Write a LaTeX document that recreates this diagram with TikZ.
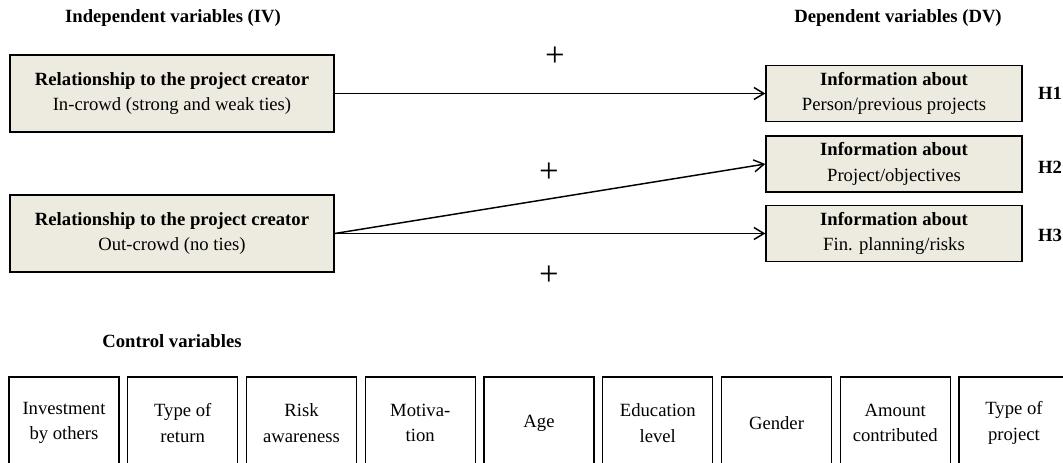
\documentclass[tikz,border=0pt]{standalone}
\usepackage{fontspec}
\setmainfont{Liberation Serif}
\usetikzlibrary{arrows.meta}
\definecolor{boxfill}{HTML}{EDEADF}

\begin{document}
\begin{tikzpicture}[x=0.75pt,y=-0.75pt,
    txt/.style={font=\fontsize{14pt}{19pt}\selectfont,align=center,inner sep=0pt},
    title/.style={txt,font=\fontsize{14pt}{19pt}\selectfont\bfseries},
    ivbox/.style={txt,draw,line width=1pt,fill=boxfill,minimum width=243pt,minimum height=57.75pt},
    dvbox/.style={txt,draw,line width=1pt,fill=boxfill,minimum width=192pt,minimum height=42pt},
    ctrlbox/.style={txt,draw,line width=0.9pt,minimum width=82.5pt,minimum height=69pt},
    plus/.style={font=\fontsize{26pt}{26pt}\selectfont,inner sep=0pt},
    link/.style={line width=1.1pt,-{Straight Barb[length=7.5pt,width=9pt]}}]
    \useasboundingbox (0,0) rectangle (1063,463);
    \clip (0,0) rectangle (1063,463);

    % headings
    \node[title] (ivtitle) at (173,18) {Independent variables (IV)};
    \node[title] (dvtitle) at (898,18) {Dependent variables (DV)};
    \node[title] (ctrltitle) at (172,341) {Control variables};

    % independent variables
    \node[ivbox] (iv1) at (172,93.5) {\textbf{Relationship to the project creator}\\In-crowd (strong and weak ties)};
    \node[ivbox] (iv2) at (172,233.5) {\textbf{Relationship to the project creator}\\Out-crowd (no ties)};

    % dependent variables
    \node[dvbox] (dv1) at (894,93.5) {\textbf{Information about}\\Person/previous projects};
    \node[dvbox] (dv2) at (894,164) {\textbf{Information about}\\Project/objectives};
    \node[dvbox] (dv3) at (894,233.5) {\textbf{Information about}\\Fin. planning/risks};

    \node[title] (h1) at (1050,93) {H1};
    \node[title] (h2) at (1050,167) {H2};
    \node[title] (h3) at (1050,235) {H3};

    \draw[link] (iv1.east) -- (dv1.west);
    \draw[link] (iv2.east) -- (dv2.west);
    \draw[link] (iv2.east) -- (dv3.west);

    \node[plus] (plus1) at (555,57) {+};
    \node[plus] (plus2) at (549,173) {+};
    \node[plus] (plus3) at (549,276) {+};

    % control variables
    \foreach[count=\i from 0] \lbl in {Investment\\by others,Type of\\return,Risk\\awareness,Motiva-\\tion,Age,Education\\level,Gender,Amount\\contributed,Type of\\project} {
        \node[ctrlbox] (ctrl\i) at (64+118.75*\i,423) {\lbl};
    }
\end{tikzpicture}
\end{document}
